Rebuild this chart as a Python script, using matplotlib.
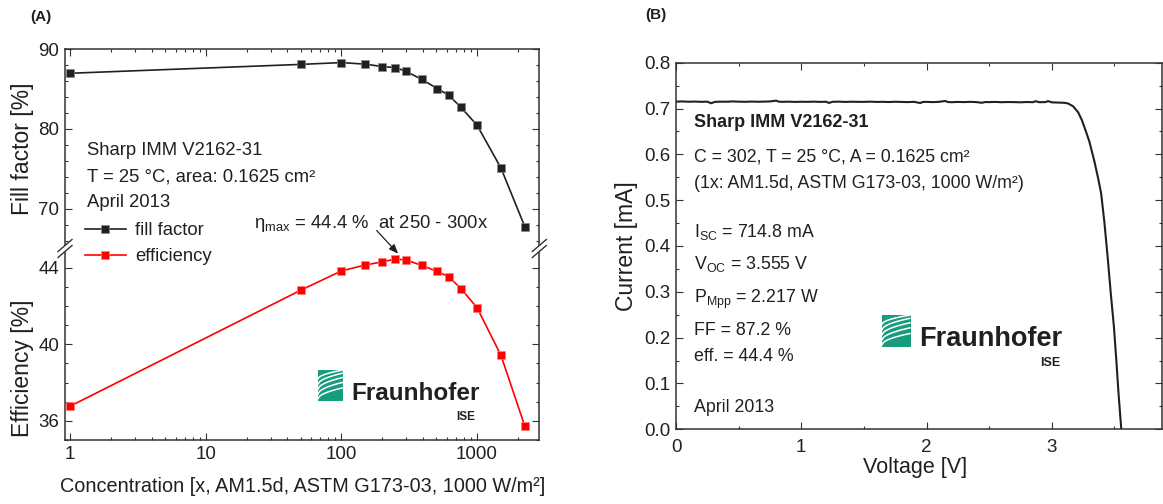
import numpy as np
import matplotlib
matplotlib.use("Agg")
import matplotlib.pyplot as plt
from matplotlib.ticker import MultipleLocator, LogLocator, NullFormatter, FuncFormatter, FormatStrFormatter
from matplotlib.lines import Line2D
from matplotlib.patches import Polygon

plt.rcParams['font.family'] = ['Liberation Sans', 'DejaVu Sans']
plt.rcParams['mathtext.fontset'] = 'custom'
plt.rcParams['mathtext.rm'] = 'Liberation Sans'
plt.rcParams['mathtext.it'] = 'Liberation Sans:italic'

# ---------------- data: panel A ----------------
concentration = [1, 50, 100, 150, 200, 250, 300, 390, 510, 620, 760, 1000, 1500, 2250]
fill_factor = [86.96, 88.07, 88.3, 88.1, 87.8, 87.67, 87.2, 86.2, 85.04, 84.2, 82.7, 80.46, 75.1, 67.75]
efficiency = [36.77, 42.82, 43.83, 44.14, 44.30, 44.45, 44.40, 44.12, 43.80, 43.52, 42.91, 41.91, 39.43, 35.73]
conc_ticks = [1, 10, 100, 1000]

# ---------------- data: panel B (I-V curve) ----------------
voltage = [0.00, 0.05, 0.10, 0.15, 0.20, 0.25, 0.28, 0.31, 0.35, 0.40, 0.45, 0.50,
           0.55, 0.60, 0.65, 0.70, 0.75, 0.80, 0.82, 0.85, 0.90, 0.95, 1.00, 1.05,
           1.10, 1.15, 1.20, 1.22, 1.25, 1.30, 1.35, 1.40, 1.45, 1.50, 1.55, 1.60,
           1.65, 1.70, 1.75, 1.80, 1.85, 1.90, 1.95, 1.97, 2.00, 2.05, 2.10, 2.15,
           2.17, 2.20, 2.25, 2.30, 2.35, 2.40, 2.44, 2.47, 2.50, 2.55, 2.60, 2.65,
           2.70, 2.75, 2.80, 2.85, 2.87, 2.90, 2.95, 2.97, 3.00, 3.05, 3.10, 3.13,
           3.17, 3.21, 3.24, 3.27, 3.30, 3.34, 3.37, 3.394, 3.42, 3.448, 3.47, 3.496,
           3.515, 3.533, 3.545, 3.555]
current = [0.7150, 0.7155, 0.7148, 0.7152, 0.7146, 0.7150, 0.7115, 0.7145, 0.7150, 0.7148, 0.7155, 0.7150,
           0.7146, 0.7152, 0.7148, 0.7150, 0.7155, 0.7172, 0.7150, 0.7146, 0.7150, 0.7144, 0.7148, 0.7146,
           0.7150, 0.7145, 0.7148, 0.7122, 0.7146, 0.7150, 0.7144, 0.7148, 0.7146, 0.7145, 0.7150, 0.7144,
           0.7146, 0.7142, 0.7148, 0.7144, 0.7140, 0.7146, 0.7120, 0.7142, 0.7145, 0.7140, 0.7146, 0.7165,
           0.7142, 0.7138, 0.7144, 0.7140, 0.7146, 0.7140, 0.7125, 0.7142, 0.7140, 0.7144, 0.7138, 0.7142,
           0.7140, 0.7136, 0.7142, 0.7138, 0.7160, 0.7138, 0.7140, 0.7162, 0.7135, 0.7130, 0.7125, 0.7110,
           0.7050, 0.6920, 0.6750, 0.6520, 0.6280, 0.5850, 0.5480, 0.5150, 0.4520, 0.3700, 0.3000, 0.2240,
           0.1520, 0.0780, 0.0350, 0.0000]
volt_lim = [0, 3.88]
curr_lim = [0, 0.8]

DARK = '#231f20'
RED = '#ff0000'
GREEN = '#179c7d'

W, H = 1163, 504
fig = plt.figure(figsize=(W / 100, H / 100), dpi=100)


def rect(l, t, r, b):
    return [l / W, 1 - b / H, (r - l) / W, (b - t) / H]


def fx(x):
    return x / W


def fy(y):
    return 1 - y / H


def style_spines(ax, hide=()):
    for name, sp in ax.spines.items():
        sp.set_linewidth(1.1)
        sp.set_color('#333333')
        if name in hide:
            sp.set_visible(False)


TICKFS = 13.5
tick_kw = dict(direction='in', colors='#333333', labelcolor=DARK, labelsize=TICKFS)

# ---------------- Panel A ----------------
ax_ff = fig.add_axes(rect(65, 49, 539.3, 248.5))
ax_ef = fig.add_axes(rect(65, 248.5, 539.3, 440), sharex=ax_ff)
for ax in (ax_ff, ax_ef):
    ax.set_xscale('log')
    ax.set_xlim(0.914, 2880)
    ax.patch.set_alpha(0)
style_spines(ax_ff, hide=('bottom',))
style_spines(ax_ef, hide=('top',))

l_ff, = ax_ff.plot(concentration, fill_factor, color=DARK, lw=1.2, marker='s', ms=6.2,
                   mfc=DARK, mec='#8a8a8a', mew=0.5, label='fill factor', clip_on=False)
l_ef, = ax_ef.plot(concentration, efficiency, color=RED, lw=1.2, marker='s', ms=6.2,
                   mfc=RED, mec='#ff8080', mew=0.5, label='efficiency', clip_on=False)

ax_ff.set_ylim(65, 90)
ax_ff.yaxis.set_major_locator(MultipleLocator(10))
ax_ff.yaxis.set_minor_locator(MultipleLocator(2))
ax_ef.set_ylim(35, 45)
ax_ef.yaxis.set_major_locator(MultipleLocator(4))
ax_ef.yaxis.set_minor_locator(MultipleLocator(1))
ax_ef.set_yticks([36, 40, 44])

ax_ef.xaxis.set_major_locator(LogLocator(base=10, numticks=10))
ax_ef.xaxis.set_minor_locator(LogLocator(base=10, subs=np.arange(2, 10), numticks=20))
ax_ef.xaxis.set_minor_formatter(NullFormatter())
ax_ef.xaxis.set_major_formatter(FuncFormatter(lambda v, _: f'{v:g}'))

ax_ff.tick_params(axis='x', which='both', bottom=False, top=True, labelbottom=False, **tick_kw)
ax_ef.tick_params(axis='x', which='both', bottom=True, top=False, pad=4, **tick_kw)
for ax in (ax_ff, ax_ef):
    ax.tick_params(axis='y', which='both', left=True, right=True, pad=4, **tick_kw)
    ax.tick_params(which='major', length=4.8, width=0.8)
    ax.tick_params(which='minor', length=2.5, width=0.8)

ax_ff.set_ylabel('Fill factor [%]', fontsize=16.5, color=DARK, va='center')
ax_ff.yaxis.set_label_coords((23 - 65) / 474.3, 0.5)
ax_ef.set_ylabel('Efficiency [%]', fontsize=16.5, color=DARK, va='center')
ax_ef.yaxis.set_label_coords((23 - 65) / 474.3, (440 - 368) / 191.5)
ax_ef.set_xlabel('Concentration [x, AM1.5d, ASTM G173-03, 1000 W/m²]', fontsize=14.3,
                 color=DARK, va='center')
ax_ef.xaxis.set_label_coords(0.5, (440 - 486) / 191.5)

# axis break marks
for xb in (65, 539.3):
    yb = 248.5
    gap = Polygon([[fx(xb - 7), fy(yb + 3 + 6)], [fx(xb + 7), fy(yb + 3 - 6)],
                   [fx(xb + 7), fy(yb - 3 - 6)], [fx(xb - 7), fy(yb - 3 + 6)]],
                  closed=True, transform=fig.transFigure, facecolor='white', edgecolor='none', zorder=5)
    fig.add_artist(gap)
    for dy in (3, -3):
        fig.add_artist(Line2D([fx(xb - 7), fx(xb + 7)], [fy(yb + dy + 6), fy(yb + dy - 6)],
                              transform=fig.transFigure, color='#333333', lw=1.0, zorder=6))

# text block A
TXTFS_A = 13.3
for txt, yb in (('Sharp IMM V2162-31', 155), ('T = 25 °C, area: 0.1625 cm²', 181.5), ('April 2013', 207)):
    fig.text(fx(87), fy(yb), txt, fontsize=TXTFS_A, color=DARK, va='baseline', ha='left')

fig.legend(handles=[l_ff, l_ef], labels=['fill factor', 'efficiency'], loc='upper left',
           bbox_to_anchor=(fx(85), fy(222)), bbox_transform=fig.transFigure, frameon=False,
           fontsize=TXTFS_A, handlelength=2.2, handletextpad=0.5, labelspacing=0.5,
           borderpad=0, borderaxespad=0, labelcolor=DARK)

# eta_max annotation
ax_ef.annotate('', xy=(262, 44.73), xytext=(182, 67.25), textcoords=ax_ff.transData,
               arrowprops=dict(arrowstyle='-|>,head_length=0.55,head_width=0.22', color=DARK, lw=0.9,
                               shrinkA=0, shrinkB=0), annotation_clip=False)
fig.text(fx(254), fy(228), 'η$_{\\mathregular{max}}$ = 44.4 %  at 250 - 300x', fontsize=TXTFS_A,
         color=DARK, va='baseline', ha='left')


def fraunhofer(l, t, r, b, text_l, base, fs, ise_r, ise_y, ise_fs):
    lg = fig.add_axes(rect(l, t, r, b))
    lg.set_facecolor(GREEN)
    lg.set_xticks([])
    lg.set_yticks([])
    for sp in lg.spines.values():
        sp.set_visible(False)
    lg.set_xlim(0, 1)
    lg.set_ylim(0, 1)
    s = np.linspace(0, 1, 30)
    for y0, y1 in ((0.05, 0.42), (0.2, 0.6), (0.36, 0.76), (0.52, 0.9), (0.7, 1.0)):
        lg.plot(s, y0 + (y1 - y0) * np.sqrt(s), color='white', lw=1.1, solid_capstyle='butt')
    fig.text(fx(text_l), fy(base), 'Fraunhofer', fontsize=fs, fontweight='bold', color=DARK,
             va='baseline', ha='left')
    fig.text(fx(ise_r), fy(ise_y), 'ISE', fontsize=ise_fs, fontweight='bold', color=DARK,
             va='center', ha='right')


fraunhofer(318, 370, 343, 400.7, 351, 400, 17.5, 475, 417, 8.5)

fig.text(fx(30), fy(16.5), '(A)', fontsize=11, fontweight='bold', color=DARK, va='center', ha='left')

# ---------------- Panel B ----------------
axb = fig.add_axes(rect(676, 62.7, 1162, 429.3))
style_spines(axb)
axb.plot(voltage, current, color=DARK, lw=1.5)
axb.set_xlim(*volt_lim)
axb.set_ylim(*curr_lim)
axb.xaxis.set_major_locator(MultipleLocator(1))
axb.xaxis.set_minor_locator(MultipleLocator(0.5))
axb.yaxis.set_major_locator(MultipleLocator(0.1))
axb.yaxis.set_minor_locator(MultipleLocator(0.05))
axb.yaxis.set_major_formatter(FormatStrFormatter('%.1f'))
axb.tick_params(which='both', top=True, right=True, **tick_kw)
axb.tick_params(axis='x', pad=7)
axb.tick_params(axis='y', pad=4)
axb.tick_params(which='major', length=4.8, width=0.8)
axb.tick_params(which='minor', length=2.5, width=0.8)
axb.set_ylabel('Current [mA]', fontsize=16.5, color=DARK, va='center')
axb.yaxis.set_label_coords((626 - 676) / 486, 0.5)
axb.set_xlabel('Voltage [V]', fontsize=15.5, color=DARK, va='center')
axb.xaxis.set_label_coords((915 - 676) / 486, (429.3 - 468) / 366.6)

TXTFS_B = 12.8
fig.text(fx(694), fy(127), 'Sharp IMM V2162-31', fontsize=13, fontweight='bold', color=DARK,
         va='baseline', ha='left')
b_lines = [
    ('C = 302, T = 25 °C, A = 0.1625 cm²', 161.5),
    ('(1x: AM1.5d, ASTM G173-03, 1000 W/m²)', 187.5),
    ('I$_{\\mathregular{SC}}$ = 714.8 mA', 237.3),
    ('V$_{\\mathregular{OC}}$ = 3.555 V', 269.3),
    ('P$_{\\mathregular{Mpp}}$ = 2.217 W', 303.3),
    ('FF = 87.2 %', 335),
    ('eff. = 44.4 %', 360.7),
    ('April 2013', 411.7),
]
for txt, yb in b_lines:
    fig.text(fx(694), fy(yb), txt, fontsize=TXTFS_B, color=DARK, va='baseline', ha='left')

fraunhofer(882, 315, 910.5, 346.7, 919, 346, 19.5, 1060, 363, 9)

fig.text(fx(645), fy(15), '(B)', fontsize=11, fontweight='bold', color=DARK, va='center', ha='left')

fig.savefig('out.png', dpi=100)
